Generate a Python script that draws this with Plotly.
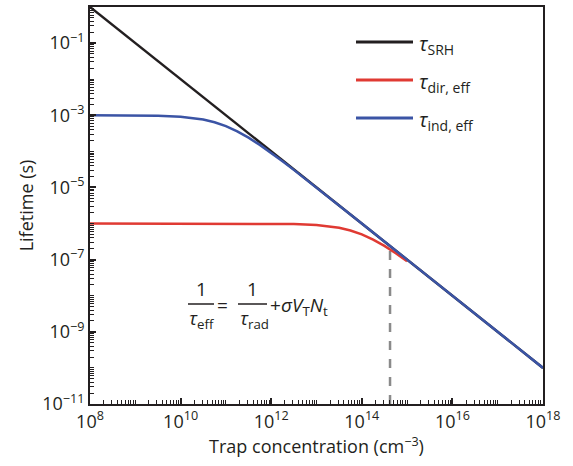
import plotly.graph_objects as go

# ---- data ----
n_srh = [1e8, 1e18]
tau_srh = [1.0, 1e-10]

n_ind = [1e8, 1e9, 3.16e9, 1e10, 1.78e10, 3.16e10, 5.62e10, 1e11, 1.78e11, 3.16e11,
         5.62e11, 1e12, 1.78e12, 3.16e12, 1e13, 1e14, 1e15, 1e16, 1e17, 1e18]
tau_ind = [9.99e-4, 9.90e-4, 9.69e-4, 9.09e-4, 8.49e-4, 7.60e-4, 6.40e-4, 5.00e-4, 3.60e-4, 2.40e-4,
           1.51e-4, 9.09e-5, 5.32e-5, 3.07e-5, 9.90e-6, 1.0e-6, 1.0e-7, 1.0e-8, 1.0e-9, 1.0e-10]

n_dir = [1e8, 1e10, 1e12, 3.16e12, 1e13, 1.78e13, 3.16e13, 5.62e13, 1e14, 1.78e14,
         3.16e14, 5.62e14, 1e15]
tau_dir = [1.0e-6, 1.0e-6, 9.90e-7, 9.69e-7, 9.09e-7, 8.49e-7, 7.60e-7, 6.40e-7, 5.00e-7, 3.60e-7,
           2.40e-7, 1.51e-7, 9.09e-8]

n_mark = [4.2e14, 4.2e14]
tau_mark = [1e-11, 1.9e-7]

series_names = ["<i>τ</i><sub>SRH</sub>", "<i>τ</i><sub>dir, eff</sub>", "<i>τ</i><sub>ind, eff</sub>"]
y_tick_exp = list(range(-11, 1))
x_tick_exp = list(range(8, 19))

FONT = "Open Sans"
BLACK = "#231f20"
RED = "#e03a33"
BLUE = "#3b54a5"
colors = [BLACK, RED, BLUE]

fig = go.Figure()
fig.add_trace(go.Scatter(x=n_mark, y=tau_mark, mode="lines", showlegend=False,
                         line=dict(color="#8a8a8a", width=2.5, dash="dash")))
for xs, ys, nm, c in [(n_srh, tau_srh, series_names[0], BLACK),
                      (n_dir, tau_dir, series_names[1], RED),
                      (n_ind, tau_ind, series_names[2], BLUE)]:
    fig.add_trace(go.Scatter(x=xs, y=ys, mode="lines", name=nm, showlegend=False,
                             line=dict(color=c, width=2.5)))

def sup(e):
    return "10<sup>%s</sup>" % (str(e).replace("-", "\u2212"))

y_lab = [e for e in y_tick_exp if e % 2 != 0]
x_lab = [e for e in x_tick_exp if e % 2 == 0]
y_vals = [10.0 ** e for e in y_lab]
y_text = [sup(e) for e in y_lab]
x_vals = [10.0 ** e for e in x_lab]
x_text = [sup(e) for e in x_lab]
y_minor = ([m * 10.0 ** e for e in y_tick_exp[:-1] for m in range(2, 10)]
           + [10.0 ** e for e in y_tick_exp if e % 2 == 0])
x_minor = ([m * 10.0 ** e for e in x_tick_exp[:-1] for m in range(2, 10)]
           + [10.0 ** e for e in x_tick_exp if e % 2 != 0])

axis_common = dict(type="log", showgrid=False, zeroline=False, showline=True,
                   linecolor=BLACK, linewidth=2, mirror=True, ticks="inside",
                   tickcolor=BLACK, tickwidth=1.5, ticklen=6, tickmode="array",
                   automargin=False,
                   tickfont=dict(family=FONT, size=18, color=BLACK))

fig.update_xaxes(**axis_common, range=[8, 18], tickvals=x_vals, ticktext=x_text,
                 minor=dict(tickmode="array", tickvals=x_minor, ticks="inside", ticklen=4,
                            tickcolor=BLACK, tickwidth=1),
                 title=dict(text="Trap concentration (cm<sup>\u22123</sup>)", standoff=4,
                            font=dict(family=FONT, size=18, color=BLACK)))
fig.update_yaxes(**axis_common, range=[-11, 0], tickvals=y_vals, ticktext=y_text,
                 minor=dict(tickmode="array", tickvals=y_minor, ticks="inside", ticklen=4,
                            tickcolor=BLACK, tickwidth=1),
                 title=dict(text="Lifetime (s)", standoff=4,
                            font=dict(family=FONT, size=18, color=BLACK)))

def px(xp):
    return (xp - 90) / 453.0
def py(yp):
    return (404 - yp) / 397.0

# formula annotation
ann = [
    (201, 303, "1", "bottom", "center"),
    (202, 304, "<i>τ</i><sub>eff</sub>", "top", "center"),
    (222, 305, "=", "middle", "center"),
    (252, 303, "1", "bottom", "center"),
    (254, 304, "<i>τ</i><sub>rad</sub>", "top", "center"),
    (269, 306, "+<i>σV</i><sub>T</sub><i>N</i><sub>t</sub>", "middle", "left"),
]
for xp, yp, t, ya, xa in ann:
    fig.add_annotation(x=px(xp), y=py(yp), xref="paper", yref="paper", text=t,
                       yanchor=ya, xanchor=xa, showarrow=False, borderpad=0,
                       font=dict(family=FONT, size=19, color=BLACK))
for x0, x1 in [(188, 214), (238, 267)]:
    fig.add_shape(type="line", xref="paper", yref="paper", x0=px(x0), x1=px(x1),
                  y0=py(304), y1=py(304), line=dict(color=BLACK, width=1.5))

# legend (drawn manually to match long line samples)
for i, (nm, c) in enumerate(zip(series_names, colors)):
    yy = [42, 80, 118][i]
    fig.add_shape(type="line", xref="paper", yref="paper", x0=px(356), x1=px(413),
                  y0=py(yy), y1=py(yy), line=dict(color=c, width=3))
    fig.add_annotation(x=px(417), y=py(yy + 2), xref="paper", yref="paper", text=nm,
                       xanchor="left", yanchor="middle", showarrow=False,
                       font=dict(family=FONT, size=20, color=BLACK))

fig.update_layout(
    width=573, height=466,
    margin=dict(l=90, r=30, t=7, b=62),
    paper_bgcolor="white", plot_bgcolor="white",
    font=dict(family=FONT, color=BLACK),
    showlegend=False,
)

fig.write_html("out.html", config={"displayModeBar": False},
               post_script="document.body.style.margin='0';")
